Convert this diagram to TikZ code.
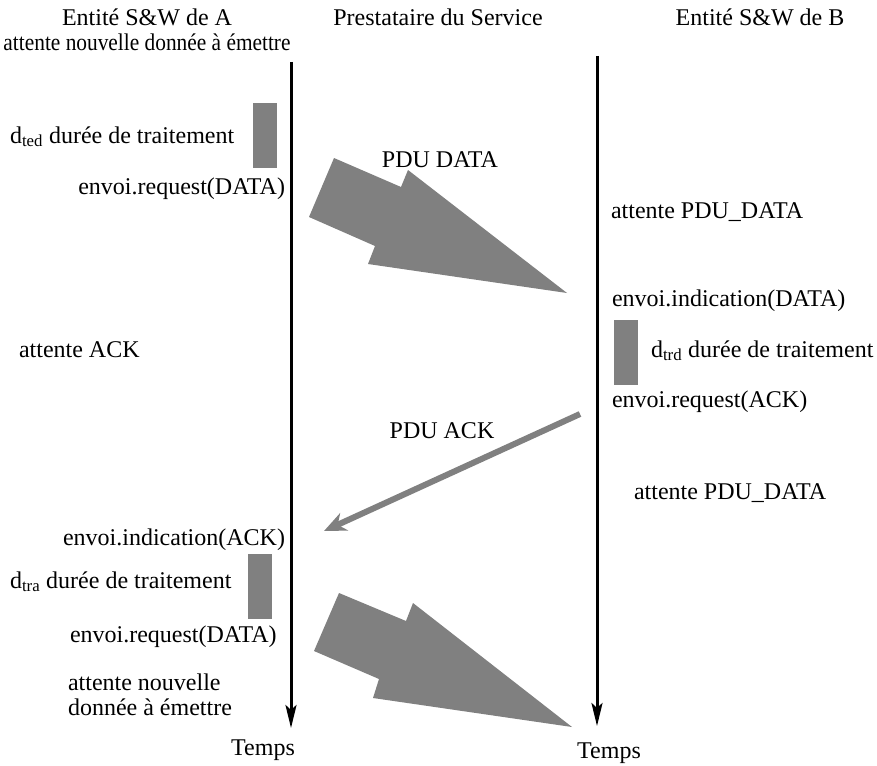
\documentclass[tikz,border=0pt]{standalone}
\usepackage{fontspec}
\usepackage{graphicx}
\setmainfont{Liberation Serif}
\usetikzlibrary{arrows.meta}
\definecolor{pdugray}{HTML}{808080}
\begin{document}
\begin{tikzpicture}[x=1pt,y=-1pt,
  lbl/.style={font=\fontsize{24}{26}\selectfont, inner sep=0pt, outer sep=0pt},
  timeline/.style={line width=3pt, -{Stealth[length=23pt,width=11pt,inset=5pt]}},
  procbox/.style={fill=pdugray, draw=none, minimum width=24pt, minimum height=65pt, inner sep=0pt},
  bigpdu/.style={fill=pdugray, draw=none},
  ackpdu/.style={draw=pdugray, line width=6pt, -{Stealth[length=22pt,width=19pt,inset=7pt]}}]
\useasboundingbox (0,0) rectangle (877,765);
\fill[white] (0,0) rectangle (877,765);

% column headers
\node[lbl, anchor=base] (hA) at (147,26) {Entité S\&W de A};
\node[lbl, anchor=base] (hS) at (438,26) {Prestataire du Service};
\node[lbl, anchor=base] (hB) at (760,26) {Entité S\&W de B};
\node[lbl, anchor=base] (wA0) at (147,51) {\scalebox{0.89}[1]{attente nouvelle donnée à émettre}};

% time axes
\coordinate (Atop) at (291,62);
\coordinate (Abot) at (291,728);
\coordinate (Btop) at (597,56);
\coordinate (Bbot) at (597,726);
\draw[timeline] (Atop) -- (Abot);
\draw[timeline] (Btop) -- (Bbot);
\node[lbl, anchor=base] (tA) at (263,755) {Temps};
\node[lbl, anchor=base] (tB) at (609,758) {Temps};

% processing delays
\node[procbox] (pA1) at (265,135.5) {};
\node[procbox] (pB1) at (626,352.5) {};
\node[procbox] (pA2) at (260,586.5) {};

% side A, first exchange
\node[lbl, anchor=base west] (dted) at (10,143) {d\textsubscript{ted} durée de traitement};
\node[lbl, anchor=base east] (reqA1) at (285,194) {envoi.request(DATA)};
\node[lbl, anchor=base west] (wAck) at (19,357) {attente ACK};

% PDU DATA (first)
\fill[bigpdu] (334,158) -- (401,187) -- (408,170) -- (567,293) -- (368,264) -- (375,246) -- (309,217) -- cycle;
\node[lbl, anchor=base] (pduD1) at (440,167) {PDU DATA};

% side B
\node[lbl, anchor=base west] (wB1) at (611,218) {attente PDU\_DATA};
\node[lbl, anchor=base west] (indB) at (612,306) {envoi.indication(DATA)};
\node[lbl, anchor=base west] (dtrd) at (651,357) {d\textsubscript{trd} durée de traitement};
\node[lbl, anchor=base west] (reqB) at (612,407) {envoi.request(ACK)};
\node[lbl, anchor=base west] (wB2) at (634,499) {attente PDU\_DATA};

% PDU ACK
\coordinate (ackS) at (580,414);
\coordinate (ackE) at (324,531);
\draw[ackpdu] (ackS) -- (ackE);
\node[lbl, anchor=base] (pduA) at (442,438) {PDU ACK};

% side A, second exchange
\node[lbl, anchor=base east] (indA) at (285,545) {envoi.indication(ACK)};
\node[lbl, anchor=base west] (dtra) at (10,588) {d\textsubscript{tra} durée de traitement};
\node[lbl, anchor=base west] (reqA2) at (70,642) {envoi.request(DATA)};
\node[lbl, anchor=base west] (wA1) at (68,690) {attente nouvelle};
\node[lbl, anchor=base west] (wA2) at (68,715) {donnée à émettre};

% PDU DATA (second)
\fill[bigpdu] (339,593) -- (406,621) -- (413,603) -- (572,727) -- (373,698) -- (379,679) -- (314,651) -- cycle;
\end{tikzpicture}
\end{document}
